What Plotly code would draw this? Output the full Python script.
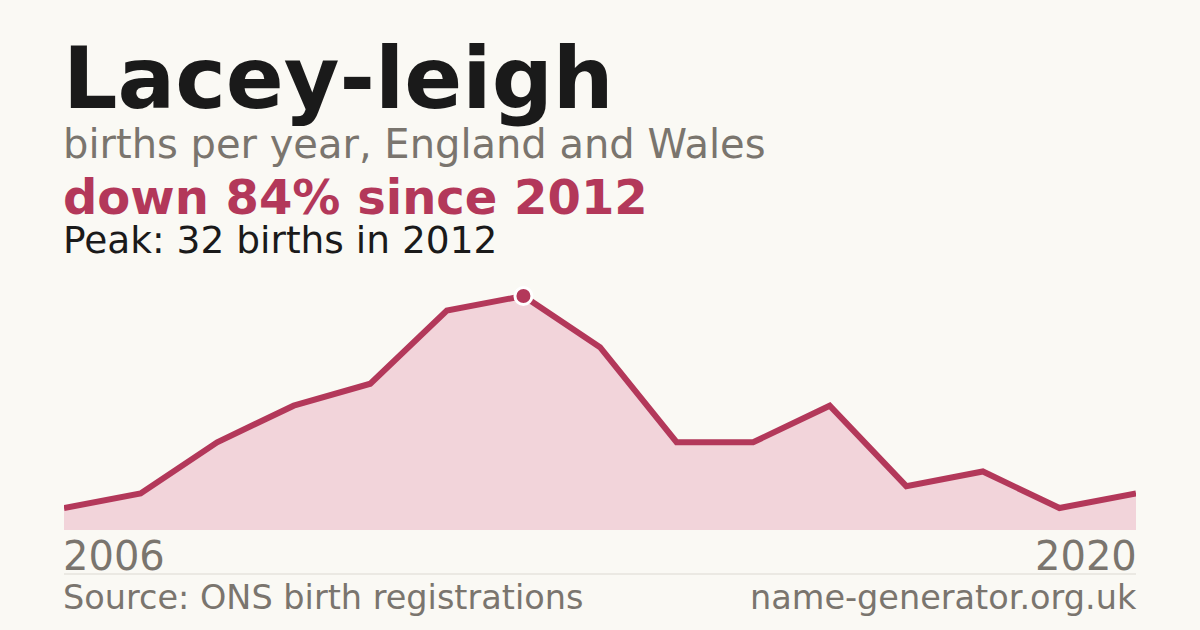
import plotly.graph_objects as go

years = list(range(2006, 2021))
births = [3, 5, 12, 17, 20, 30, 32, 25, 12, 12, 17, 6, 8, 3, 5]

name = "Lacey-leigh"
subtitle = "births per year, England and Wales"
change_text = "down 84% since 2012"
peak_text = "Peak: 32 births in 2012"
source_text = "Source: ONS birth registrations"
site_text = "name-generator.org.uk"

red = "#b3385a"
grey = "#7a756e"
bg = "#faf9f4"

# plot box in pixels
W, H = 1200, 630
L, R, T, B = 64, 64, 280, 100
plot_h = H - T - B
base_y = H - B


def py(y):
    # pixel row -> paper y
    return (base_y - y) / plot_h


peak_i = births.index(max(births))
ymax = max(births) * plot_h / (base_y - 296)

fig = go.Figure()
fig.add_trace(go.Scatter(
    x=years, y=births, mode="lines", fill="tozeroy",
    fillcolor="#f2d4da", line=dict(color=red, width=6),
    hoverinfo="skip",
))
fig.add_trace(go.Scatter(
    x=[years[peak_i]], y=[births[peak_i]], mode="markers",
    marker=dict(size=17, color=red, line=dict(color="white", width=3)),
    cliponaxis=False, hoverinfo="skip",
))

font = "DejaVu Sans"
# text, x (paper), baseline row, size, colour, anchor, bold
texts = [
    (name, 0, 108, 85.5, "#1a1a1a", "left", True),
    (subtitle, 0, 158, 40, grey, "left", False),
    (change_text, 0, 214, 48, red, "left", True),
    (peak_text, 0, 253, 37.5, "#1a1a1a", "left", False),
    (str(years[0]), 0, 570, 40, grey, "left", False),
    (str(years[-1]), 1, 570, 40, grey, "right", False),
    (source_text, 0, 609, 33.5, grey, "left", False),
    (site_text, 1, 609, 33.5, grey, "right", False),
]
for txt, x, base, size, color, anchor, bold in texts:
    fig.add_annotation(
        x=x, y=py(base - 0.35 * size), xref="paper", yref="paper",
        text=f"<b>{txt}</b>" if bold else txt,
        showarrow=False, xanchor=anchor, yanchor="middle",
        xshift=-3 if anchor == "left" else 3,
        font=dict(family=font, size=size, color=color),
    )

fig.add_shape(type="line", xref="paper", yref="paper",
              x0=0, x1=1, y0=py(574), y1=py(574),
              line=dict(color="#dcd9d2", width=1))

fig.update_xaxes(range=[years[0], years[-1]], visible=False)
fig.update_yaxes(range=[0, ymax], visible=False)
fig.update_layout(
    width=W, height=H, showlegend=False,
    margin=dict(l=L, r=R, t=T, b=B),
    paper_bgcolor=bg, plot_bgcolor=bg,
)

fig.write_html(
    "out.html",
    config={"displayModeBar": False},
    post_script="document.body.style.margin='0';"
                "document.body.style.background='%s';" % bg,
)
